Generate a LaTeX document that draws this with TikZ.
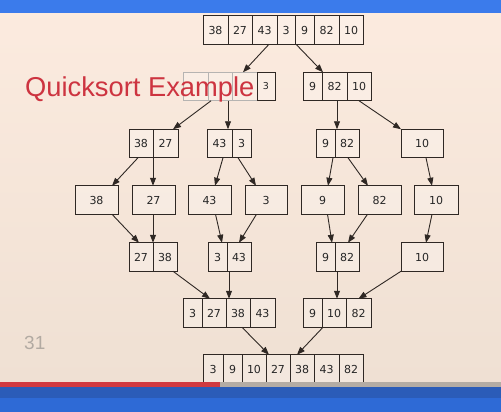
\documentclass[tikz,border=0pt]{standalone}
\usepackage{fontspec}
\setmainfont{DejaVu Sans}
\newfontfamily\titlefont{Liberation Sans}
\usetikzlibrary{arrows.meta}

\definecolor{bgtop}{HTML}{FCEBDF}
\definecolor{bgmid}{HTML}{F9E8DB}
\definecolor{bgbot}{HTML}{EFE0D3}
\definecolor{linec}{HTML}{2F2824}
\definecolor{titlered}{RGB}{205,52,64}
\definecolor{pagegrey}{RGB}{178,170,162}
\definecolor{barblue}{HTML}{3B7BEB}
\definecolor{bardark}{HTML}{2B5CB8}
\definecolor{barlight}{HTML}{2E6AD6}
\definecolor{progred}{HTML}{D03A40}
\definecolor{proggrey}{HTML}{B4ACA4}

\tikzset{
  cell/.style={draw=linec, line width=0.9pt, fill=white, fill opacity=0.25,
    text opacity=1, minimum height=28.5pt, inner sep=0pt, outer sep=0pt,
    font=\fontsize{11}{13}\selectfont, text=black!85},
  ghost/.style={cell, draw=linec!35},
  arr/.style={draw=linec, line width=0.9pt, -{Triangle[length=8pt,width=6pt]}},
}

% a row of adjacent cells: name, west x, centre y, list of width/text
\newcommand\cellrow[4]{%
  \coordinate (#1-0) at (#2,#3);
  \foreach \w/\t [count=\i] in {#4} {
    \pgfmathtruncatemacro\j{\i-1}
    \node[cell, minimum width=\w pt, anchor=west] (#1-\i) at (#1-\j.east) {\t};
  }%
}

\begin{document}
\begin{tikzpicture}[x=1pt, y=-1pt]
\useasboundingbox (0,0) rectangle (501,412);

% slide background and top bar
\shade[top color=bgtop, middle color=bgmid, bottom color=bgbot] (0,0) rectangle (501,384);
\fill[barblue] (0,0) rectangle (501,13);

% split phase
\cellrow{r1}{203}{30}{25/38, 24/27, 25/43, 18/3, 19/9, 25/82, 24/10}

\node[ghost, minimum width=25pt, anchor=west] (r2L-1) at (183,86.5) {};
\node[ghost, minimum width=24pt, anchor=west] (r2L-2) at (r2L-1.east) {};
\node[ghost, minimum width=25pt, anchor=west] (r2L-3) at (r2L-2.east) {};
\node[cell, minimum width=18pt, anchor=west, font=\fontsize{9.5}{11}\selectfont] (r2L-4) at (r2L-3.east) {3};
\cellrow{r2R}{303}{86.5}{19/9, 25/82, 24/10}

\cellrow{r3a}{129}{143.5}{24/38, 25/27}
\cellrow{r3b}{207}{143.5}{25/43, 19/3}
\cellrow{r3c}{316}{143.5}{19/9, 24/82}
\node[cell, minimum width=42pt] (r3d) at (422,143.5) {10};

\node[cell, minimum width=43pt] (r4a) at (96.5,200) {38};
\node[cell, minimum width=43pt] (r4b) at (153.5,200) {27};
\node[cell, minimum width=43pt] (r4c) at (209.5,200) {43};
\node[cell, minimum width=42pt] (r4d) at (266,200) {3};
\node[cell, minimum width=43pt] (r4e) at (322.5,200) {9};
\node[cell, minimum width=43pt] (r4f) at (379.5,200) {82};
\node[cell, minimum width=44pt] (r4g) at (436,200) {10};

% merge phase
\cellrow{r5a}{129}{257}{24/27, 24/38}
\cellrow{r5b}{208}{257}{19/3, 24/43}
\cellrow{r5c}{316}{257}{19/9, 24/82}
\node[cell, minimum width=42pt] (r5d) at (422,257) {10};

\cellrow{r6a}{183}{313}{19/3, 24/27, 24/38, 25/43}
\cellrow{r6b}{303}{313}{19/9, 24/10, 25/82}

\cellrow{r7}{203}{369}{20/3, 19/9, 24/10, 24/27, 24/38, 25/43, 24/82}

% connectors
\draw[arr] ([xshift=4.5pt]r1-3.south) -- ([xshift=-1.5pt]r2L-3.north);
\draw[arr] ([xshift=1pt]r1-5.south west) -- ([xshift=1pt]r2R-1.north east);

\draw[arr] ([xshift=-9pt]r2L-2.south) -- ([xshift=7.5pt]r3a-2.north);
\draw[arr] ([xshift=8pt]r2L-2.south) -- ([xshift=8pt]r2L-2.south |- r3b-1.north);
\draw[arr] ([xshift=2.5pt]r2R-2.south) -- ([xshift=2.5pt]r2R-2.south |- r3c-2.north);
\draw[arr] (r2R-3.south) -- (r3d.north west);

\draw[arr] ([xshift=-3pt]r3a-1.south) -- ([xshift=15.5pt]r4a.north);
\draw[arr] (r3a-1.south east) -- (r3a-1.south east |- r4b.north);
\draw[arr] ([xshift=3.5pt]r3b-1.south) -- ([xshift=5.5pt]r4c.north);
\draw[arr] ([xshift=-3.5pt]r3b-2.south) -- ([xshift=-10pt]r4d.north);
\draw[arr] ([xshift=7.5pt]r3c-1.south) -- ([xshift=5.5pt]r4e.north);
\draw[arr] ([xshift=1pt]r3c-2.south) -- ([xshift=-11.5pt]r4f.north);
\draw[arr] ([xshift=4pt]r3d.south) -- ([xshift=-4pt]r4g.north);

\draw[arr] ([xshift=15.5pt]r4a.south) -- ([xshift=-2pt]r5a-1.north);
\draw[arr] (r5a-1.north east |- r4b.south) -- (r5a-1.north east);
\draw[arr] ([xshift=6pt]r4c.south) -- ([xshift=4.5pt]r5b-1.north);
\draw[arr] ([xshift=-9.5pt]r4d.south) -- (r5b-2.north);
\draw[arr] ([xshift=5pt]r4e.south) -- ([xshift=6.5pt]r5c-1.north);
\draw[arr] ([xshift=-12pt]r4f.south) -- ([xshift=1pt]r5c-2.north);
\draw[arr] ([xshift=-4pt]r4g.south) -- ([xshift=4pt]r5d.north);

\draw[arr] ([xshift=8pt]r5a-2.south) -- ([xshift=-4pt]r6a-2.north);
\draw[arr] ([xshift=-10pt]r5b-2.south) -- ([xshift=-10pt]r5b-2.south |- r6a-3.north);
\draw[arr] ([xshift=-10pt]r5c-2.south) -- ([xshift=-10pt]r5c-2.south |- r6b-2.north);
\draw[arr] (r5d.south west) -- (r6b-3.north);

\draw[arr] ([xshift=4pt]r6a-3.south) -- ([xshift=-9pt]r7-4.north);
\draw[arr] ([xshift=-11pt]r6b-2.south) -- ([xshift=-5pt]r7-5.north);

% slide title and page number
\node[anchor=base west, inner sep=0pt, text=titlered,
      font=\titlefont\fontsize{27.3}{32}\selectfont] (title) at (25,96) {Quicksort Example};
\node[anchor=base west, inner sep=0pt, text=pagegrey,
      font=\titlefont\fontsize{19}{22}\selectfont] (pageno) at (24,349) {31};

% bottom progress line and bars
\fill[proggrey] (0,382) rectangle (501,387);
\fill[progred] (0,382) rectangle (220,387);
\fill[bardark] (0,387) rectangle (501,398);
\fill[barlight] (0,398) rectangle (501,412);
\end{tikzpicture}
\end{document}
